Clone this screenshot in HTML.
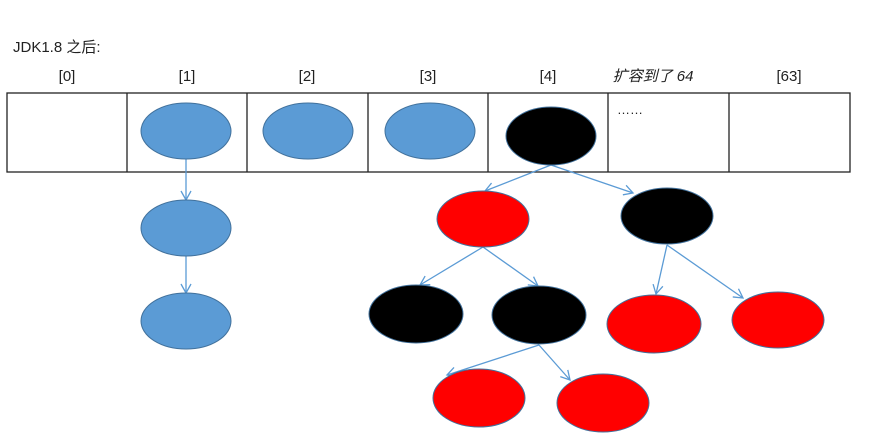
<!DOCTYPE html>
<html><head><meta charset="utf-8"><style>
body{margin:0;background:#fff;width:888px;height:434px;overflow:hidden}
svg{display:block}
text{font-family:"Liberation Sans","Noto Sans CJK SC",sans-serif;font-size:15px;fill:#222}
</style></head><body>
<svg width="888" height="434" viewBox="0 0 888 434">
<defs><marker id="a" markerWidth="12" markerHeight="12" refX="10" refY="6" orient="auto" markerUnits="userSpaceOnUse"><path d="M1,1 L10,6 L1,11" fill="none" stroke="#5b9bd5" stroke-width="1.3"/></marker></defs>
<text x="13" y="52">JDK1.8 之后:</text>
<g text-anchor="middle">
<text x="67" y="81">[0]</text><text x="187" y="81">[1]</text><text x="307" y="81">[2]</text><text x="428" y="81">[3]</text><text x="548" y="81">[4]</text><text x="653" y="81" font-style="italic">扩容到了 64</text><text x="789" y="81">[63]</text>
</g>
<rect x="7" y="93" width="843" height="79" fill="none" stroke="#222" stroke-width="1.3"/>
<g stroke="#222" stroke-width="1.3"><line x1="127" y1="93" x2="127" y2="172"/><line x1="247" y1="93" x2="247" y2="172"/><line x1="368" y1="93" x2="368" y2="172"/><line x1="488" y1="93" x2="488" y2="172"/><line x1="608" y1="93" x2="608" y2="172"/><line x1="729" y1="93" x2="729" y2="172"/></g>
<text x="617" y="114" style="font-size:13px">……</text>
<g stroke="#5b9bd5" stroke-width="1.3" fill="none" marker-end="url(#a)">
<line x1="186" y1="159" x2="186" y2="200"/><line x1="186" y1="255" x2="186" y2="293"/>
<line x1="551" y1="165" x2="485" y2="191"/><line x1="551" y1="165" x2="633" y2="193"/>
<line x1="483" y1="247" x2="420" y2="285"/><line x1="483" y1="247" x2="538" y2="286"/>
<line x1="667" y1="245" x2="656" y2="294"/><line x1="667" y1="245" x2="743" y2="298"/>
<line x1="539" y1="345" x2="447" y2="375"/><line x1="539" y1="345" x2="570" y2="380"/>
</g>
<g stroke="#41719c" stroke-width="1">
<ellipse cx="186" cy="131" rx="45" ry="28" fill="#5b9bd5"/>
<ellipse cx="308" cy="131" rx="45" ry="28" fill="#5b9bd5"/>
<ellipse cx="430" cy="131" rx="45" ry="28" fill="#5b9bd5"/>
<ellipse cx="551" cy="136" rx="45" ry="29" fill="#000"/>
<ellipse cx="186" cy="228" rx="45" ry="28" fill="#5b9bd5"/>
<ellipse cx="186" cy="321" rx="45" ry="28" fill="#5b9bd5"/>
<ellipse cx="483" cy="219" rx="46" ry="28" fill="#f00"/>
<ellipse cx="667" cy="216" rx="46" ry="28" fill="#000"/>
<ellipse cx="416" cy="314" rx="47" ry="29" fill="#000"/>
<ellipse cx="539" cy="315" rx="47" ry="29" fill="#000"/>
<ellipse cx="654" cy="324" rx="47" ry="29" fill="#f00"/>
<ellipse cx="778" cy="320" rx="46" ry="28" fill="#f00"/>
<ellipse cx="479" cy="398" rx="46" ry="29" fill="#f00"/>
<ellipse cx="603" cy="403" rx="46" ry="29" fill="#f00"/>
</g>
</svg>
</body></html>
